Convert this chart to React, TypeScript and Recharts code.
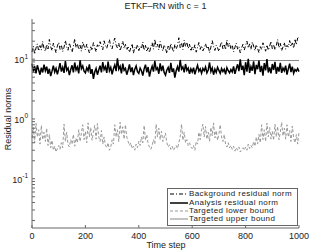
import React from 'react';
import { LineChart, Line, XAxis, YAxis, ReferenceLine } from 'recharts';

// Sampling interval of the listed values (time steps)
const STEP = 5;

// Analysis residual norm
const analysisNorm = [
  8.4, 6.2, 7.6, 5.8, 7.9, 6.6, 5.5, 7.2, 6.0, 8.1,
  6.4, 7.5, 5.7, 6.9, 5.2, 6.3, 7.8, 6.1, 7.0, 5.6,
  6.8, 8.6, 6.2, 7.3, 5.9, 9.3, 6.5, 7.1, 5.4, 6.7,
  7.9, 6.0, 8.8, 6.6, 7.4, 5.8, 9.6, 6.9, 7.7, 6.3,
  5.9, 7.2, 6.4, 8.2, 5.7, 6.8, 4.7, 6.1, 7.0, 5.5,
  6.6, 7.8, 6.0, 8.9, 6.7, 7.5, 5.9, 9.1, 6.4, 7.3,
  5.6, 6.9, 8.0, 6.3, 10.3, 6.8, 7.6, 5.8, 8.4, 6.5,
  7.0, 5.5, 6.6, 8.2, 6.1, 7.3, 5.4, 6.8, 7.7, 6.2,
  5.8, 7.1, 6.4, 5.3, 6.9, 8.1, 6.0, 7.4, 5.1, 6.5,
  7.6, 6.2, 9.4, 6.7, 7.2, 5.7, 8.5, 6.3, 7.8, 6.0,
  5.4, 6.6, 7.3, 5.9, 8.7, 6.1, 7.0, 4.9, 6.4, 7.5,
  6.2, 9.7, 6.8, 7.4, 6.0, 8.3, 6.5, 7.1, 5.7, 6.9,
  6.1, 7.2, 5.6, 6.7, 7.9, 6.3, 6.9, 5.8, 7.0, 6.4,
  7.4, 5.9, 6.6, 8.8, 6.2, 7.1, 5.5, 6.8, 6.0, 7.3,
  6.5, 5.8, 7.0, 6.2, 6.8, 5.6, 7.2, 6.4, 5.9, 6.7,
  6.1, 7.6, 5.7, 6.9, 8.2, 6.3, 9.9, 6.6, 7.8, 5.4,
  8.9, 6.2, 10.1, 5.9, 7.5, 6.4, 9.2, 5.6, 8.0, 6.8,
  9.5, 6.1, 7.7, 5.3, 8.6, 6.5, 10.0, 6.0, 7.3, 5.8,
  8.3, 6.6, 9.0, 5.7, 7.4, 6.2, 8.7, 5.9, 7.1, 6.4,
  7.8, 5.5, 6.9, 8.4, 6.1, 7.5, 5.8, 6.7, 6.3, 7.0,
  6.2,
];

// Background residual norm
const backgroundNorm = [
  13.2, 16.5, 12.1, 15.4, 18.0, 13.7, 16.9, 14.2, 19.8, 15.1,
  13.5, 17.6, 14.8, 21.4, 16.2, 13.9, 18.5, 15.3, 12.8, 16.7,
  19.1, 14.6, 17.3, 13.4, 15.8, 20.6, 16.0, 14.1, 18.7, 15.5,
  13.1, 16.4, 21.9, 15.7, 18.2, 14.5, 17.1, 13.6, 19.4, 16.6,
  14.3, 17.8, 15.0, 12.7, 16.1, 14.0, 18.9, 15.6, 13.3, 17.4,
  15.9, 19.6, 16.8, 14.4, 20.3, 17.0, 15.2, 18.4, 21.2, 16.3,
  14.9, 19.0, 22.5, 17.2, 15.4, 18.6, 13.8, 16.5, 20.0, 15.1,
  17.7, 14.2, 16.0, 13.0, 15.5, 18.1, 12.6, 15.8, 14.6, 17.5,
  13.9, 16.3, 15.0, 19.3, 14.1, 17.0, 13.4, 15.6, 12.9, 16.2,
  18.8, 14.7, 21.6, 15.9, 17.9, 14.3, 19.7, 16.1, 13.7, 17.3,
  15.2, 12.5, 16.6, 14.0, 18.3, 15.4, 13.2, 17.6, 14.8, 16.9,
  22.8, 15.6, 18.9, 14.5, 20.7, 16.4, 19.2, 15.1, 17.8, 13.6,
  16.0, 14.2, 17.4, 13.1, 15.7, 19.0, 14.6, 16.8, 13.8, 15.3,
  18.2, 14.9, 16.5, 12.8, 15.9, 20.4, 16.2, 14.0, 17.1, 15.5,
  13.5, 16.7, 19.5, 15.0, 17.9, 14.4, 21.0, 16.3, 18.6, 14.8,
  17.2, 13.3, 15.8, 18.5, 14.7, 16.1, 12.7, 15.4, 17.7, 14.2,
  16.9, 20.1, 15.3, 18.0, 14.6, 19.4, 16.6, 13.9, 17.5, 15.1,
  12.9, 16.2, 14.5, 18.8, 15.7, 13.6, 17.3, 14.1, 16.4, 19.9,
  15.0, 17.6, 14.3, 16.8, 21.3, 15.5, 18.4, 13.8, 16.0, 19.1,
  14.7, 17.0, 15.9, 20.5, 16.3, 18.7, 15.2, 21.8, 17.4, 22.6,
  23.2,
];

// Targeted lower bound
const lowerBound = [
  0.48, 0.72, 0.4, 0.85, 0.5, 0.66, 0.38, 0.78, 0.45, 0.6,
  0.42, 0.7, 0.36, 0.55, 0.33, 0.44, 0.3, 0.35, 0.28, 0.32,
  0.36, 0.31, 0.4, 0.33, 0.82, 0.42, 0.6, 0.37, 0.34, 0.45,
  0.38, 0.55, 0.35, 0.48, 0.4, 0.66, 0.42, 0.58, 0.8, 0.45,
  0.62, 0.4, 0.86, 0.5, 0.72, 0.44, 0.6, 0.78, 0.46, 0.84,
  0.5, 0.42, 0.64, 0.38, 0.5, 0.36, 0.33, 0.4, 0.3, 0.34,
  0.45, 0.38, 0.8, 0.5, 0.66, 0.42, 0.88, 0.55, 0.74, 0.46,
  0.8, 0.5, 0.42, 0.36, 0.4, 0.32, 0.35, 0.3, 0.38, 0.33,
  0.42, 0.36, 0.5, 0.4, 0.78, 0.44, 0.55, 0.38, 0.34, 0.31,
  0.36, 0.45, 0.38, 0.82, 0.5, 0.7, 0.45, 0.62, 0.42, 0.5,
  0.58, 0.4, 0.34, 0.37, 0.31, 0.35, 0.3, 0.33, 0.36, 0.32,
  0.4, 0.5, 0.82, 0.44, 0.6, 0.4, 0.45, 0.36, 0.4, 0.34,
  0.32, 0.36, 0.3, 0.42, 0.38, 0.6, 0.45, 0.66, 0.82, 0.5,
  0.75, 0.46, 0.6, 0.42, 0.72, 0.52, 0.86, 0.48, 0.64, 0.44,
  0.56, 0.8, 0.5, 0.42, 0.55, 0.38, 0.34, 0.4, 0.33, 0.36,
  0.31, 0.35, 0.29, 0.33, 0.3, 0.34, 0.28, 0.31, 0.33, 0.3,
  0.34, 0.3, 0.38, 0.32, 0.36, 0.33, 0.42, 0.35, 0.5, 0.38,
  0.55, 0.4, 0.8, 0.45, 0.66, 0.42, 0.85, 0.5, 0.72, 0.46,
  0.62, 0.44, 0.82, 0.5, 0.75, 0.45, 0.6, 0.88, 0.52, 0.7,
  0.46, 0.8, 0.5, 0.64, 0.42, 0.76, 0.48, 0.4, 0.55, 0.38,
  0.6,
];

// Targeted upper bound (constant)
const upperBound = 9.5;

const xTicks = [0, 200, 400, 600, 800, 1000];
const yMajorTicks = [0.1, 1, 10];
const yMinorTicks = [0.02, 0.03, 0.04, 0.05, 0.06, 0.07, 0.08, 0.09, 0.2, 0.3, 0.4, 0.5, 0.6, 0.7, 0.8, 0.9, 2, 3, 4, 5, 6, 7, 8, 9, 20, 30, 40];
const yDomain = [0.015, 47];

const legendItems = [
  { label: 'Background residual norm', color: '#000', dash: '4 2 1 2', width: 1 },
  { label: 'Analysis residual norm', color: '#000', dash: undefined, width: 1.5 },
  { label: 'Targeted lower bound', color: '#999', dash: '3 2', width: 1 },
  { label: 'Targeted upper bound', color: '#888', dash: undefined, width: 1 },
];

const data = analysisNorm.map((a, i) => ({
  t: i * STEP,
  analysis: a,
  background: backgroundNorm[i],
  lower: lowerBound[i],
}));

const FONT = '"Liberation Sans", Arial, sans-serif';
const AX = '#666';

const exponentOf = (v: number) => Math.round(Math.log10(v));

const LeftTick = (props: any) => {
  const { x, y, payload } = props;
  const v = payload.value;
  const major = yMajorTicks.includes(v);
  return (
    <g>
      <line x1={x} x2={x + 3} y1={y} y2={y} stroke={AX} strokeWidth={1} />
      {major && (
        <text x={x - 4} y={y + 4} textAnchor="end" fontSize={9} fontFamily={FONT} fill="#222">
          10
          <tspan dy={-4.5} fontSize={6.5}>{exponentOf(v)}</tspan>
        </text>
      )}
    </g>
  );
};

const RightTick = (props: any) => {
  const { x, y } = props;
  return <line x1={x} x2={x - 3} y1={y} y2={y} stroke={AX} strokeWidth={1} />;
};

const BottomTick = (props: any) => {
  const { x, y, payload } = props;
  return (
    <g>
      <line x1={x} x2={x} y1={y} y2={y - 3} stroke={AX} strokeWidth={1} />
      <text x={x} y={y + 11} textAnchor="middle" fontSize={9} fontFamily={FONT} fill="#222">
        {payload.value}
      </text>
    </g>
  );
};

const TopTick = (props: any) => {
  const { x, y } = props;
  return <line x1={x} x2={x} y1={y} y2={y + 3} stroke={AX} strokeWidth={1} />;
};

export default function App() {
  const allY = [...yMinorTicks, ...yMajorTicks].sort((a, b) => a - b);
  return (
    <div style={{ position: 'absolute', left: 0, top: 0, width: 311, height: 252, background: '#fff', fontFamily: FONT }}>
      <LineChart width={311} height={252} data={data} margin={{ top: 19, right: 12, bottom: 0, left: 0 }}>
        <XAxis
          xAxisId="bottom"
          dataKey="t"
          type="number"
          domain={[0, 1000]}
          ticks={xTicks}
          interval={0}
          height={24}
          tickSize={0}
          tickMargin={0}
          tickLine={false}
          axisLine={{ stroke: AX }}
          tick={<BottomTick />}
        />
        <XAxis
          xAxisId="top"
          dataKey="t"
          type="number"
          orientation="top"
          domain={[0, 1000]}
          ticks={xTicks}
          interval={0}
          height={0}
          tickSize={0}
          tickMargin={0}
          tickLine={false}
          axisLine={{ stroke: AX }}
          tick={<TopTick />}
        />
        <YAxis
          yAxisId="left"
          scale="log"
          domain={yDomain}
          allowDataOverflow
          ticks={allY}
          interval={0}
          width={32}
          tickSize={0}
          tickMargin={0}
          tickLine={false}
          axisLine={{ stroke: AX }}
          tick={<LeftTick />}
        />
        <YAxis
          yAxisId="right"
          orientation="right"
          scale="log"
          domain={yDomain}
          allowDataOverflow
          ticks={allY}
          interval={0}
          width={0}
          tickSize={0}
          tickMargin={0}
          tickLine={false}
          axisLine={{ stroke: AX }}
          tick={<RightTick />}
        />
        <ReferenceLine xAxisId="bottom" yAxisId="left" y={upperBound} stroke="#888" strokeWidth={1} ifOverflow="hidden" />
        <Line
          xAxisId="top"
          yAxisId="right"
          dataKey="lower"
          stroke="#999"
          strokeWidth={1}
          strokeDasharray="3 2"
          dot={false}
          isAnimationActive={false}
          type="linear"
        />
        <Line
          xAxisId="bottom"
          yAxisId="left"
          dataKey="background"
          stroke="#000"
          strokeWidth={1}
          strokeDasharray="4 2 1 2"
          dot={false}
          isAnimationActive={false}
          type="linear"
        />
        <Line
          xAxisId="bottom"
          yAxisId="left"
          dataKey="analysis"
          stroke="#000"
          strokeWidth={1.5}
          dot={false}
          isAnimationActive={false}
          type="linear"
        />
      </LineChart>

      <div style={{ position: 'absolute', left: 0, width: 331, top: 1, textAlign: 'center', fontSize: 9, color: '#222', lineHeight: '11px' }}>
        ETKF–RN with c = 1
      </div>
      <div style={{ position: 'absolute', left: 116, width: 100, top: 240, textAlign: 'center', fontSize: 9, color: '#222', lineHeight: '11px' }}>
        Time step
      </div>
      <div
        style={{
          position: 'absolute',
          left: 8,
          top: 119,
          transform: 'translate(-50%, -50%) rotate(-90deg)',
          whiteSpace: 'nowrap',
          fontSize: 9,
          color: '#222',
          lineHeight: '11px',
        }}
      >
        Residual norms
      </div>

      <div
        style={{
          position: 'absolute',
          left: 167,
          top: 188,
          width: 129,
          height: 35,
          border: `1px solid ${AX}`,
          background: '#fff',
          paddingTop: 1,
        }}
      >
        {legendItems.map((it) => (
          <div key={it.label} style={{ display: 'flex', alignItems: 'center', height: 8.4, fontSize: 8, letterSpacing: 0.4, color: '#222', whiteSpace: 'nowrap', overflow: 'visible' }}>
            <svg width={21} height={8} style={{ flex: 'none' }}>
              <line x1={2} x2={20} y1={4} y2={4} stroke={it.color} strokeWidth={it.width} strokeDasharray={it.dash} />
            </svg>
            <span style={{ lineHeight: '8px', display: 'block', height: 8 }}>{it.label}</span>
          </div>
        ))}
      </div>
    </div>
  );
}
